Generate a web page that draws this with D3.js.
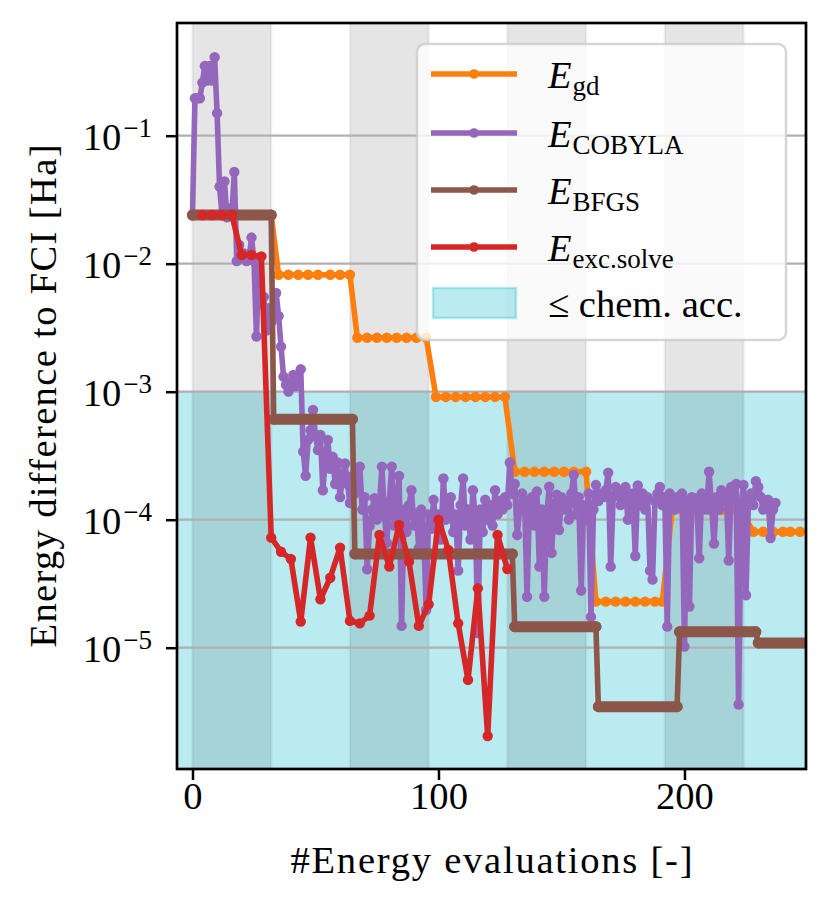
<!DOCTYPE html>
<html>
<head>
<meta charset="utf-8">
<script src="https://cdn.jsdelivr.net/npm/d3@7"></script>
<style>
  body { margin: 0; background: #fff; }
  text { font-family: "Liberation Serif", "Times New Roman", serif; fill: #000; }
</style>
</head>
<body>
<div id="chart"></div>
<script>
// ---- data ----
const xTicks = [0, 100, 200];
const yTicks = [1e-1, 1e-2, 1e-3, 1e-4, 1e-5];
const yTickExp = ["−1", "−2", "−3", "−4", "−5"];

// shaded evaluation blocks
const bandStarts = [0, 64, 128, 192];
const bandWidth = 32;
const chemAcc = 1e-3;

// gradient descent
const gdX = [0, 4, 8, 12, 16, 20, 24, 28, 32,
  35, 39, 43, 47, 51, 56, 60, 64,
  67, 71, 75, 79, 83, 87, 91, 95,
  99, 103, 107, 111, 115, 119, 123, 127,
  131, 135, 139, 143, 147, 151, 155, 160,
  164, 168, 172, 176, 180, 184, 188, 191,
  195, 199, 203, 207, 211, 215, 219, 223,
  228, 232, 236, 240, 243, 247, 251];
const gdY = [0.024, 0.024, 0.024, 0.024, 0.024, 0.024, 0.024, 0.024, 0.024,
  8.2e-3, 8.2e-3, 8.2e-3, 8.2e-3, 8.2e-3, 8.2e-3, 8.2e-3, 8.2e-3,
  2.64e-3, 2.64e-3, 2.64e-3, 2.64e-3, 2.64e-3, 2.64e-3, 2.64e-3, 2.64e-3,
  9.1e-4, 9.1e-4, 9.1e-4, 9.1e-4, 9.1e-4, 9.1e-4, 9.1e-4, 9.1e-4,
  2.37e-4, 2.37e-4, 2.37e-4, 2.37e-4, 2.37e-4, 2.37e-4, 2.37e-4, 2.37e-4,
  2.29e-5, 2.29e-5, 2.29e-5, 2.29e-5, 2.29e-5, 2.29e-5, 2.29e-5, 2.29e-5,
  1.19e-4, 1.19e-4, 1.19e-4, 1.19e-4, 1.19e-4, 1.19e-4, 1.19e-4, 1.19e-4,
  8.05e-5, 8.05e-5, 8.05e-5, 8.05e-5, 8.05e-5, 8.05e-5, 8.05e-5];

// COBYLA, one value per energy evaluation (index = evaluation)
const cobylaY = [
  2.4e-2, 1.96e-1, 1.96e-1, 1.96e-1, 2.6e-1, 3.5e-1, 2.7e-1, 3.5e-1, 2.7e-1, 4.1e-1,
  1.5e-1, 4.0e-2, 2.4e-2, 4.4e-2, 2.3e-2, 2.7e-2, 2.4e-2, 5.2e-2, 1.05e-2, 1.4e-2,
  1.1e-2, 1.2e-2, 1.05e-2, 1.1e-2, 1.6e-2, 1.05e-2, 2.7e-3, 1.0e-2, 4.9e-3, 5.5e-3,
  3.0e-3, 4.5e-3, 3.5e-3, 4.5e-3, 5.9e-3, 3.9e-3, 2.25e-3, 1.31e-3, 1.13e-3, 1.0e-3,
  1.2e-3, 1.35e-3, 1.1e-3, 1.3e-3, 1.5e-3, 3.4e-4, 2.2e-4, 4.2e-4, 5.0e-4, 7.2e-4,
  4.5e-4, 3.5e-4, 4.6e-4, 1.7e-4, 3.0e-4, 4.2e-4, 2.5e-4, 3.1e-4, 1.9e-4, 2.8e-4,
  1.5e-4, 2.1e-4, 2.75e-4, 1.9e-4, 1.35e-4, 2.2e-4, 1.6e-4, 2.0e-4, 2.6e-4, 1.2e-4,
  1.5e-4, 4.1e-5, 8.9e-5, 1.2e-4, 1.47e-4, 1.0e-4, 1.3e-4, 2.6e-4, 1.1e-4, 6.6e-5,
  1.4e-4, 2.6e-4, 9.0e-5, 1.3e-4, 2.2e-4, 1.48e-5, 1.2e-4, 8.0e-5, 1.3e-4, 1.7e-4,
  9.0e-5, 1.12e-4, 6.0e-5, 1.2e-4, 8.0e-5, 1.97e-5, 1.1e-4, 8.5e-5, 1.43e-4, 9.0e-5,
  1.1e-4, 7.0e-5, 2.1e-4, 1.0e-4, 1.2e-4, 1.5e-4, 8.0e-5, 1.1e-4, 4.0e-5, 1.3e-4,
  2.1e-4, 9.0e-5, 1.2e-4, 7.0e-5, 1.7e-4, 1.0e-4, 1.3e-5, 1.2e-4, 8.0e-5, 1.43e-4,
  1.0e-4, 1.3e-4, 9.0e-5, 1.7e-4, 1.1e-4, 1.4e-4, 1.2e-4, 1.5e-4, 1.3e-4, 2.8e-4,
  1.6e-4, 1.9e-4, 7.6e-5, 1.2e-4, 1.6e-4, 1.4e-4, 2.5e-5, 1.3e-4, 1.5e-4, 9.0e-5,
  1.66e-4, 4.3e-5, 1.2e-4, 2.5e-5, 1.1e-4, 1.81e-4, 5.5e-5, 1.3e-4, 1.57e-4, 8.3e-5,
  1.5e-4, 1.2e-4, 1.4e-4, 1.0e-4, 1.6e-4, 2.24e-4, 1.1e-4, 1.5e-4, 2.8e-5, 1.3e-4,
  1.0e-4, 1.6e-4, 1.74e-5, 1.2e-4, 1.87e-4, 1.4e-4, 1.6e-4, 1.5e-4, 1.7e-4, 2.33e-4,
  4.3e-5, 1.5e-4, 1.8e-4, 1.6e-4, 1.3e-4, 1.7e-4, 1.8e-4, 1.0e-4, 1.5e-4, 1.6e-4,
  5.2e-5, 1.85e-4, 1.3e-4, 1.6e-4, 1.2e-4, 1.5e-4, 4.0e-5, 3.4e-5, 1.4e-4, 1.6e-4,
  1.8e-4, 1.3e-4, 1.5e-4, 1.46e-5, 1.6e-4, 1.4e-4, 1.2e-4, 1.5e-4, 1.3e-4, 1.6e-4,
  1.02e-5, 1.4e-4, 2.1e-5, 1.5e-4, 1.47e-4, 1.3e-4, 5.0e-5, 1.6e-4, 1.4e-4, 1.2e-4,
  2.37e-4, 1.3e-4, 6.5e-5, 1.5e-4, 1.2e-4, 1.7e-4, 1.4e-4, 1.6e-4, 4.8e-5, 1.8e-4,
  1.5e-4, 1.9e-4, 3.6e-6, 1.3e-4, 1.87e-4, 2.57e-5, 1.4e-4, 1.6e-4, 1.3e-4, 2.0e-4,
  1.8e-4, 1.5e-4, 1.2e-4, 1.3e-4, 1.43e-4, 7.2e-5, 1.2e-4, 1.35e-4
];

// BFGS, step corners
const bfgsX = [0, 32, 33, 65, 66, 130, 131, 164, 165, 197, 198, 229, 230, 252];
const bfgsY = [0.024, 0.024, 6.1e-4, 6.1e-4, 5.4e-5, 5.4e-5, 1.46e-5, 1.46e-5,
  3.46e-6, 3.46e-6, 1.33e-5, 1.33e-5, 1.09e-5, 1.09e-5];

// excitation solve
const excX = [4, 8, 12, 16, 20, 24, 28, 32, 36, 40, 44, 48, 52, 56, 60, 64,
  68, 72, 76, 80, 84, 88, 92, 96, 100, 104, 108, 112, 116, 120, 124, 128];
const excY = [0.024, 0.024, 0.024, 0.024, 0.0117, 0.0117, 0.0114, 7.24e-5,
  5.62e-5, 4.93e-5, 1.6e-5, 7.24e-5, 2.39e-5, 3.52e-5, 6.04e-5, 1.62e-5,
  1.55e-5, 1.78e-5, 7.59e-5, 4.3e-5, 9.1e-5, 4.7e-5, 1.48e-5, 2.18e-5,
  1.0e-4, 5.8e-5, 1.55e-5, 5.6e-6, 2.91e-5, 2.04e-6, 7.59e-5, 4.12e-5];

// ---- layout ----
const W = 830, H = 907;
const L = 177, R = 806, T = 23, B = 769;
const FS = 38.6, FSsub = 27;
const LW = 5.6, MR = 5.2;

const colors = { gd: "#ff7f0e", cobyla: "#9467bd", bfgs: "#8c564b", exc: "#d62728", cyan: "#17becf" };

const svg = d3.select("#chart").append("svg")
  .attr("width", W).attr("height", H);

const x = d3.scaleLinear().domain([-6.3, 249.4]).range([L, R]);
const y = d3.scaleLog().domain([1.128e-6, 0.7594]).range([B, T]);

svg.append("defs").append("clipPath").attr("id", "clip")
  .append("rect").attr("x", L).attr("y", T).attr("width", R - L).attr("height", B - T);

const plot = svg.append("g").attr("clip-path", "url(#clip)");

// chemical accuracy region
plot.append("rect")
  .attr("x", L - 5).attr("width", R - L + 10)
  .attr("y", y(chemAcc)).attr("height", B - y(chemAcc) + 5)
  .attr("fill", colors.cyan).attr("fill-opacity", 0.3);

// evaluation blocks
plot.selectAll("rect.band").data(bandStarts).join("rect")
  .attr("class", "band")
  .attr("x", d => x(d)).attr("width", d => x(d + bandWidth) - x(d))
  .attr("y", T - 5).attr("height", B - T + 10)
  .attr("fill", "#000").attr("fill-opacity", 0.1)
  .attr("stroke", "#000").attr("stroke-opacity", 0.05).attr("stroke-width", 2.5);

// grid
plot.selectAll("line.grid").data(yTicks).join("line")
  .attr("class", "grid")
  .attr("x1", L).attr("x2", R)
  .attr("y1", d => y(d)).attr("y2", d => y(d))
  .attr("stroke", "#b0b0b0").attr("stroke-width", 2.2);

const line = d3.line().x(d => x(d[0])).y(d => y(d[1]));

function series(xs, ys, color, r) {
  const pts = xs.map((v, i) => [v, ys[i]]);
  const g = plot.append("g");
  g.append("path").datum(pts).attr("d", line)
    .attr("fill", "none").attr("stroke", color).attr("stroke-width", LW)
    .attr("stroke-linejoin", "round").attr("stroke-linecap", "round");
  g.selectAll("circle").data(pts).join("circle")
    .attr("cx", d => x(d[0])).attr("cy", d => y(d[1])).attr("r", r)
    .attr("fill", color);
  return g;
}

series(gdX, gdY, colors.gd, MR);
series(cobylaY.map((v, i) => i), cobylaY, colors.cobyla, MR);

// BFGS: evaluated every step, so the flat parts look like a thick bar of markers
const gb = series(bfgsX, bfgsY, colors.bfgs, 5.5);
const flats = [];
for (let i = 0; i < bfgsX.length - 1; i++) {
  if (bfgsY[i] === bfgsY[i + 1]) flats.push([bfgsX[i], bfgsX[i + 1], bfgsY[i]]);
}
gb.selectAll("line.flat").data(flats).join("line")
  .attr("x1", d => x(d[0])).attr("x2", d => x(d[1]))
  .attr("y1", d => y(d[2])).attr("y2", d => y(d[2]))
  .attr("stroke", colors.bfgs).attr("stroke-width", 11).attr("stroke-linecap", "round");

series(excX, excY, colors.exc, MR);

// frame
svg.append("rect").attr("x", L).attr("y", T).attr("width", R - L).attr("height", B - T)
  .attr("fill", "none").attr("stroke", "#000").attr("stroke-width", 2.7);

// x axis
const xAxis = svg.append("g").attr("transform", `translate(0,${B})`)
  .call(d3.axisBottom(x).tickValues(xTicks).tickSize(11).tickSizeOuter(0).tickFormat(d3.format("d")));
xAxis.select(".domain").remove();
xAxis.selectAll(".tick line").attr("stroke", "#000").attr("stroke-width", 2.5);
xAxis.selectAll(".tick text").attr("y", 40).attr("dy", 0)
  .style("font-size", FS + "px").style("font-family", "Liberation Serif, serif").attr("fill", "#000");

// y axis
const yAxis = svg.append("g").attr("transform", `translate(${L},0)`)
  .call(d3.axisLeft(y).tickValues(yTicks).tickSize(11).tickSizeOuter(0).tickFormat(() => ""));
yAxis.select(".domain").remove();
yAxis.selectAll(".tick line").attr("stroke", "#000").attr("stroke-width", 2.5);
yAxis.selectAll(".tick text").remove();
yAxis.selectAll(".tick").each(function (d, i) {
  const t = d3.select(this).append("text")
    .attr("x", -25).attr("y", 14).attr("text-anchor", "end")
    .style("font-size", FS + "px");
  t.append("tspan").text("10");
  t.append("tspan").attr("dy", -13).attr("dx", 2).style("font-size", FSsub + "px").text(yTickExp[i]);
});

// axis labels
svg.append("text")
  .attr("x", (L + R) / 2).attr("y", 873).attr("text-anchor", "middle")
  .attr("textLength", 402).attr("lengthAdjust", "spacing")
  .style("font-size", FS + "px").text("#Energy evaluations [-]");

svg.append("text")
  .attr("transform", `translate(56,${(T + B) / 2}) rotate(-90)`)
  .attr("text-anchor", "middle")
  .attr("textLength", 503).attr("lengthAdjust", "spacing")
  .style("font-size", FS + "px").text("Energy difference to FCI [Ha]");

// legend
const leg = svg.append("g");
leg.append("rect").attr("x", 417).attr("y", 44).attr("width", 369).attr("height", 296)
  .attr("rx", 8).attr("fill", "#fff").attr("fill-opacity", 0.8)
  .attr("stroke", "#cccccc").attr("stroke-opacity", 0.8).attr("stroke-width", 2.5);

const legItems = [
  { sub: "gd", color: colors.gd, y: 74 },
  { sub: "COBYLA", color: colors.cobyla, y: 133 },
  { sub: "BFGS", color: colors.bfgs, y: 190 },
  { sub: "exc.solve", color: colors.exc, y: 247 }
];
legItems.forEach(d => {
  leg.append("line").attr("x1", 431).attr("x2", 517).attr("y1", d.y).attr("y2", d.y)
    .attr("stroke", d.color).attr("stroke-width", LW);
  leg.append("circle").attr("cx", 474).attr("cy", d.y).attr("r", 4.8).attr("fill", d.color);
  const t = leg.append("text").attr("x", 548).attr("y", d.y + 14).style("font-size", FS + "px");
  t.append("tspan").style("font-style", "italic").text("E");
  t.append("tspan").attr("dy", 7).attr("dx", 1).style("font-size", FSsub + "px").text(d.sub);
});
leg.append("rect").attr("x", 433).attr("y", 288).attr("width", 83).attr("height", 30)
  .attr("fill", colors.cyan).attr("fill-opacity", 0.3)
  .attr("stroke", colors.cyan).attr("stroke-opacity", 0.3).attr("stroke-width", 2.5);
leg.append("text").attr("x", 548).attr("y", 317).style("font-size", FS + "px")
  .text("≤ chem. acc.");
</script>
</body>
</html>
